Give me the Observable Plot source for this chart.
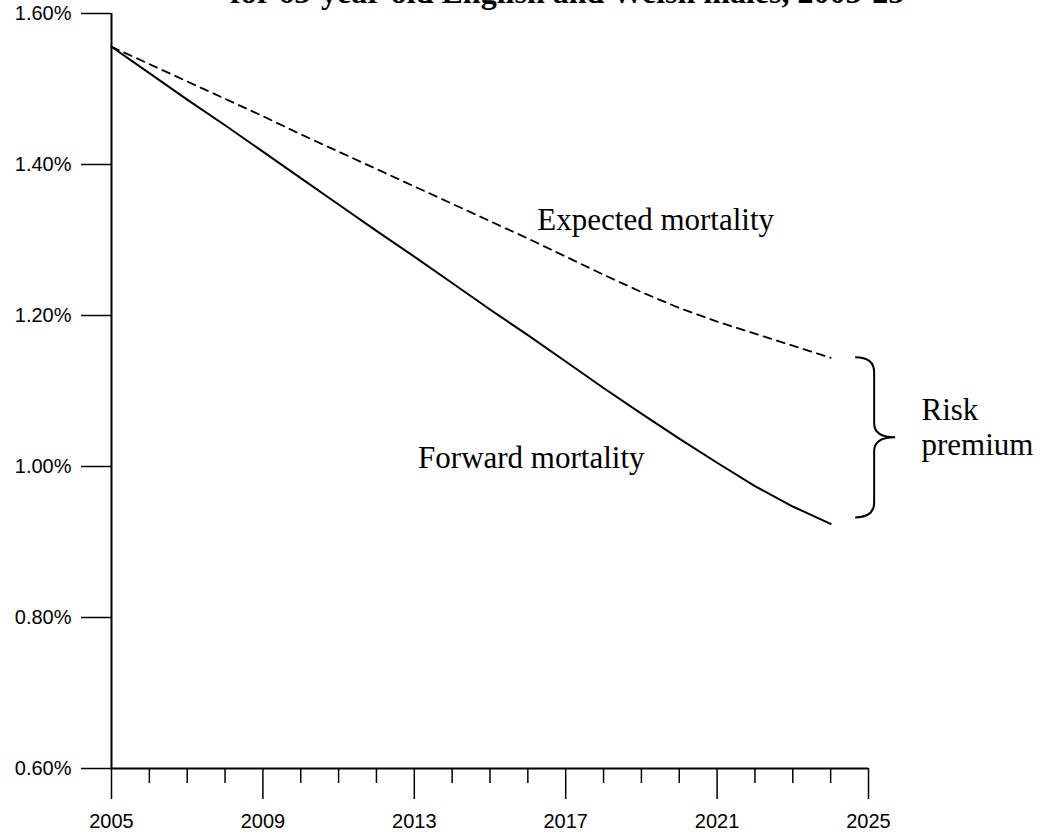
<!DOCTYPE html>
<html>
<head>
<meta charset="utf-8">
<script src="https://cdn.jsdelivr.net/npm/d3@7"></script>
<script src="https://cdn.jsdelivr.net/npm/@observablehq/plot@0.6"></script>
<style>
  body { margin: 0; background: #fff; }
  #wrap { position: relative; width: 1044px; height: 837px; overflow: hidden; background: #fff; }
  #title { position: absolute; left: 230px; top: -24px; font: bold 32px "Liberation Serif", "Times New Roman", serif; line-height: 32px; white-space: nowrap; color: #000; }
  #chart { position: absolute; left: 0; top: 0; }
</style>
</head>
<body>
<div id="wrap">
  <div id="chart"></div>
  <div id="title">for 65-year-old English and Welsh males, 2005-25</div>
</div>
<script>
// ---- data ----
const years = [2005, 2006, 2007, 2008, 2009, 2010, 2011, 2012, 2013, 2014,
               2015, 2016, 2017, 2018, 2019, 2020, 2021, 2022, 2023, 2024];
const expectedMortality = [1.556, 1.533, 1.510, 1.487, 1.464, 1.440, 1.417, 1.394, 1.371, 1.348,
                           1.325, 1.302, 1.278, 1.254, 1.231, 1.210, 1.192, 1.176, 1.160, 1.144];
const forwardMortality  = [1.556, 1.521, 1.486, 1.452, 1.417, 1.382, 1.347, 1.312, 1.278, 1.243,
                           1.208, 1.174, 1.139, 1.104, 1.070, 1.037, 1.005, 0.974, 0.947, 0.924];
const yTicks = [0.6, 0.8, 1.0, 1.2, 1.4, 1.6];
const majorYearTicks = [2005, 2009, 2013, 2017, 2021, 2025];
const minorYearTicks = [2006, 2007, 2008, 2010, 2011, 2012, 2014, 2015, 2016,
                        2018, 2019, 2020, 2022, 2023, 2024];
const labelTexts  = ["Expected mortality", "Forward mortality", "Risk\npremium"];
const labelYears  = [2016.25, 2013.1, 2026.4];
const labelValues = [1.3126, 0.9974, 1.0146];

const serif = '"Liberation Serif", "Times New Roman", serif';

const labels = labelTexts.map((t, i) => ({text: t, x: labelYears[i], y: labelValues[i]}));

function brace(index, scales) {
  const x = scales.x, y = scales.y;
  const n = years.length - 1;
  const top = y(expectedMortality[n]);
  const bot = y(forwardMortality[n]) - 6;
  const mid = (top + bot) / 2;
  const xl = x(years[n]) + 25;
  const xv = xl + 19;
  const xt = xv + 21;
  const p = d3.path();
  p.moveTo(xl, top);
  p.quadraticCurveTo(xv, top, xv, top + 15);
  p.lineTo(xv, mid - 14);
  p.quadraticCurveTo(xv, mid, xt, mid);
  p.quadraticCurveTo(xv, mid, xv, mid + 14);
  p.lineTo(xv, bot - 15);
  p.quadraticCurveTo(xv, bot, xl, bot);
  const el = document.createElementNS("http://www.w3.org/2000/svg", "path");
  el.setAttribute("d", p.toString());
  el.setAttribute("fill", "none");
  el.setAttribute("stroke", "black");
  el.setAttribute("stroke-width", "2");
  return el;
}

const chart = Plot.plot({
  width: 1044,
  height: 837,
  marginLeft: 111,
  marginRight: 176,
  marginTop: 13,
  marginBottom: 69,
  style: {fontFamily: '"Liberation Sans", Arial, sans-serif', fontSize: "20px", background: "white", color: "black", overflow: "visible"},
  x: {domain: [2005, 2025], label: null},
  y: {domain: [0.6, 1.6], label: null},
  marks: [
    Plot.axisY({ticks: yTicks, tickSize: 30, tickPadding: 10, tickFormat: d => d.toFixed(2) + "%", label: null, strokeWidth: 1.5, fontSize: 20}),
    Plot.axisX({ticks: majorYearTicks, tickSize: 31, tickPadding: 14, tickFormat: d => String(d), label: null, strokeWidth: 1.5, fontSize: 20}),
    Plot.axisX({ticks: minorYearTicks, tickSize: 15, tickFormat: () => "", label: null, strokeWidth: 1.5}),
    Plot.ruleX([years[0]], {y1: yTicks[0], y2: yTicks[yTicks.length - 1], strokeWidth: 2}),
    Plot.ruleY([yTicks[0]], {x1: majorYearTicks[0], x2: majorYearTicks[majorYearTicks.length - 1], strokeWidth: 2}),
    Plot.line(expectedMortality, {x: (d, i) => years[i], y: d => d, stroke: "black", strokeWidth: 1.8, strokeDasharray: "8,6"}),
    Plot.line(forwardMortality, {x: (d, i) => years[i], y: d => d, stroke: "black", strokeWidth: 2}),
    brace,
    Plot.text(labels, {x: "x", y: "y", text: "text", textAnchor: "start", lineAnchor: "bottom", lineHeight: 1.13, fontFamily: serif, fontSize: 31, fill: "black"})
  ]
});
document.getElementById("chart").appendChild(chart);
</script>
</body>
</html>
